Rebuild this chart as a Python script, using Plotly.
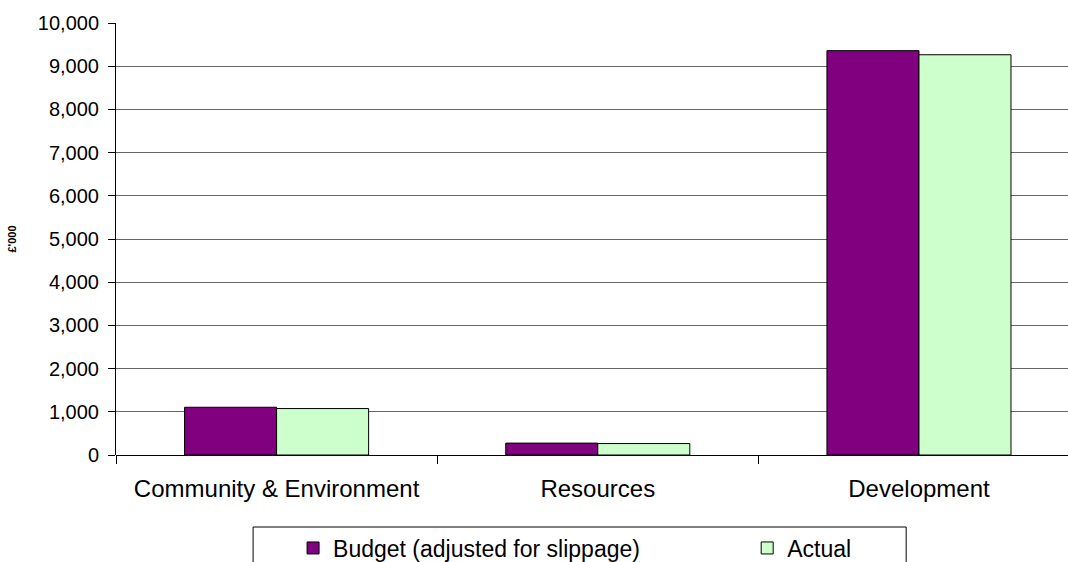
import plotly.graph_objects as go

categories = ["Community & Environment", "Resources", "Development"]
budget = [1105, 275, 9360]
actual = [1075, 265, 9265]
y_ticks = [0, 1000, 2000, 3000, 4000, 5000, 6000, 7000, 8000, 9000, 10000]

FONT = "Arial, Liberation Sans, sans-serif"

fig = go.Figure()
fig.add_trace(go.Bar(
    x=categories, y=budget, name="Budget (adjusted for slippage)",
    marker=dict(color="#800080", line=dict(color="#000000", width=1)),
    legend="legend",
))
fig.add_trace(go.Bar(
    x=categories, y=actual, name="Actual",
    marker=dict(color="#CCFFCC", line=dict(color="#000000", width=1)),
    legend="legend2",
))

legend_common = dict(
    orientation="h", yanchor="middle", xanchor="left",
    bgcolor="rgba(0,0,0,0)", borderwidth=0,
    font=dict(family=FONT, size=23, color="#000000"),
)

fig.update_layout(
    width=1068, height=562,
    margin=dict(l=116, r=0, t=23, b=107, autoexpand=False),
    paper_bgcolor="white", plot_bgcolor="white",
    showlegend=True,
    barmode="group", bargap=0.427, bargroupgap=0,
    font=dict(family=FONT, color="#000000", size=20),
    xaxis=dict(
        type="category", range=[-0.5, 2.464], automargin=False,
        showgrid=False, showline=False,
        ticks="outside", tickson="boundaries", ticklen=8, tickcolor="#000000",
        tickfont=dict(size=24), ticklabelstandoff=17,
    ),
    yaxis=dict(
        range=[0, 10000], tickvals=y_ticks, tickformat=",d", automargin=False,
        showgrid=True, gridcolor="#666666", gridwidth=1,
        showline=True, linecolor="#000000", linewidth=1,
        ticks="outside", ticklen=7, tickcolor="#000000",
        zeroline=True, zerolinecolor="#000000", zerolinewidth=1,
        tickfont=dict(size=20), ticklabelstandoff=5,
        title=dict(text="<b>£'000</b>", font=dict(size=11), standoff=18),
    ),
    legend=dict(x=0.186, y=-0.2153, **legend_common),
    legend2=dict(x=0.663, y=-0.2153, **legend_common),
    shapes=[dict(
        type="rect", xref="paper", yref="paper",
        x0=0.144, x1=0.830, y0=-0.1667, y1=-0.6,
        line=dict(color="#000000", width=1), fillcolor="rgba(0,0,0,0)",
    )],
)

fig.write_html("out.html")
